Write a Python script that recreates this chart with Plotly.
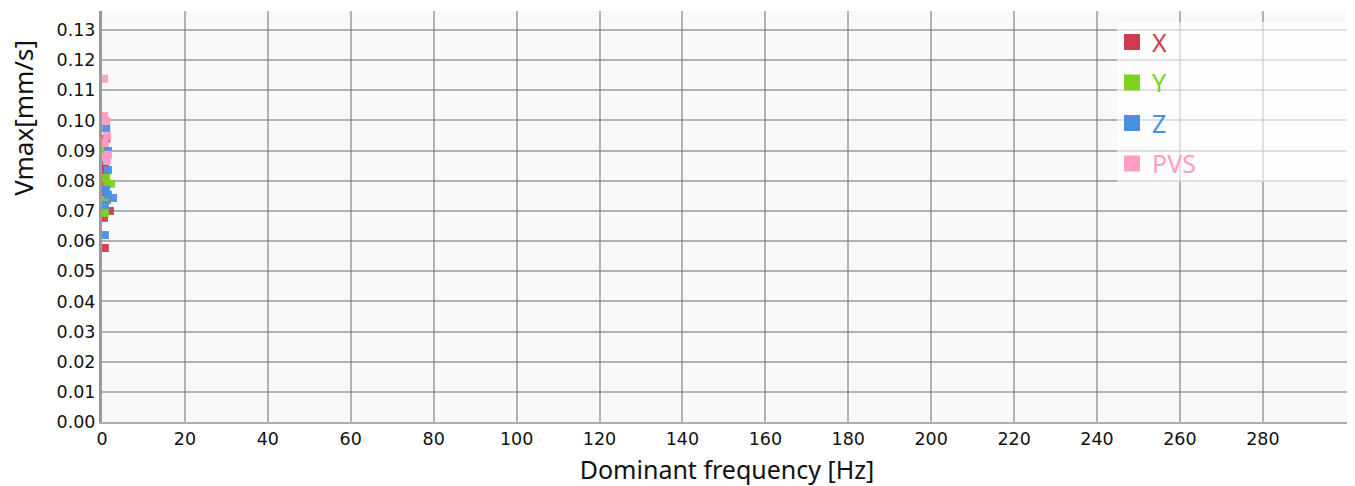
import plotly.graph_objects as go

# dominant frequency [Hz] / Vmax [mm/s] per component
x_freq = [0.7, 1.0, 0.5, 0.7, 0.5, 1.0, 1.9, 0.5, 0.5, 1.2, 0.7, 0.5]
x_vmax = [0.0577, 0.0939, 0.083, 0.0816, 0.0786, 0.0753, 0.070, 0.0693, 0.0677, 0.0736, 0.085, 0.077]

y_freq = [0.5, 0.7, 1.2, 2.2, 1.0, 0.5, 0.7, 0.5, 1.0]
y_vmax = [0.0912, 0.0896, 0.079, 0.079, 0.0736, 0.0703, 0.0693, 0.0886, 0.081]

z_freq = [0.7, 1.0, 2.65, 1.45, 1.45, 1.0, 0.7, 1.45, 0.5]
z_vmax = [0.062, 0.0975, 0.0743, 0.0899, 0.0836, 0.077, 0.072, 0.0753, 0.0869]

pvs_freq = [0.5, 0.5, 1.0, 1.2, 0.7, 0.7, 1.2, 1.45, 0.5]
pvs_vmax = [0.1138, 0.1015, 0.0998, 0.0949, 0.0925, 0.0879, 0.0866, 0.0886, 0.1008]

series = [
    ("X", x_freq, x_vmax, "#d13a4f"),
    ("Y", y_freq, y_vmax, "#7ed321"),
    ("Z", z_freq, z_vmax, "#4a90e2"),
    ("PVS", pvs_freq, pvs_vmax, "#ff9dc4"),
]

x_ticks = list(range(0, 300, 20))
y_ticks = [i / 100 for i in range(0, 14)]

fig = go.Figure()
for name, fx, vy, color in series:
    fig.add_trace(go.Scatter(x=fx, y=vy, mode="markers", name=name, showlegend=False,
                             marker=dict(symbol="square", size=8, color=color, opacity=0.95)))
for name, fx, vy, color in series:
    # legend-only entry with a bigger swatch
    fig.add_trace(go.Scatter(x=[None], y=[None], mode="markers", legendgroup=name,
                             name=f"<span style='color:{color}'>{name}</span>",
                             marker=dict(symbol="square", size=16, color=color)))

# translucent panel behind the legend, running to the right edge
fig.add_shape(type="rect", xref="paper", yref="paper", x0=0.812, x1=1.0, y0=0.584, y1=0.973,
              fillcolor="rgba(255,255,255,0.6)", line_width=0, layer="above")

# y title sits toward the top of the axis, not centred
fig.add_annotation(text="Vmax[mm/s]", textangle=-90, xref="paper", yref="paper",
                   x=0, y=0.74, xshift=-79, xanchor="center", yanchor="middle",
                   showarrow=False, font=dict(family="Noto Sans", size=26, color="#111"))

fig.update_layout(
    width=1347, height=478,
    margin=dict(l=94, r=3, t=3, b=64),
    paper_bgcolor="white", plot_bgcolor="#f9f9fc",
    font=dict(family="DejaVu Sans", size=17.5, color="#111"),
    legend=dict(x=0.808, y=0.98, xanchor="left", yanchor="top",
                bgcolor="rgba(0,0,0,0)", borderwidth=0,
                font=dict(family="Noto Sans", size=25),
                itemsizing="trace", tracegroupgap=5),
)
fig.update_xaxes(range=[0, 301.5], tickvals=x_ticks, ticktext=[str(t) for t in x_ticks],
                 showgrid=True, gridcolor="rgba(120,120,120,0.55)", gridwidth=2,
                 showline=True, linecolor="rgba(120,120,120,0.6)", linewidth=2,
                 zeroline=False, ticks="", automargin=False,
                 title=dict(text="Dominant frequency [Hz]", font=dict(family="Noto Sans", size=25)))
fig.update_yaxes(range=[0, 0.1363], tickvals=y_ticks, ticktext=[f"{t:.2f}" for t in y_ticks],
                 showgrid=True, gridcolor="rgba(120,120,120,0.55)", gridwidth=2,
                 showline=True, linecolor="rgba(120,120,120,0.75)", linewidth=3,
                 zeroline=False, ticks="", automargin=False)

fig.write_html("out.html")
